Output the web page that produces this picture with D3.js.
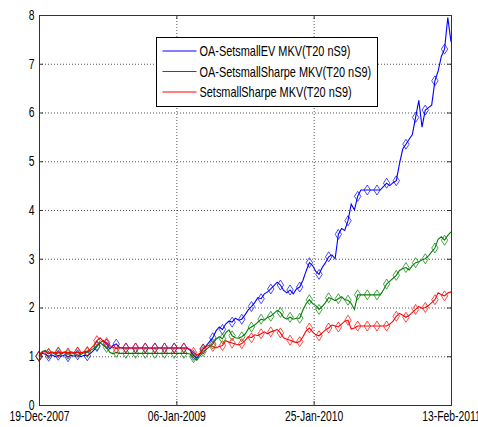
<!DOCTYPE html>
<html>
<head>
<meta charset="utf-8">
<script src="https://cdn.jsdelivr.net/npm/d3@7"></script>
<style>
  body { margin: 0; background: #fff; }
  svg { display: block; }
  text { font-family: "Liberation Sans", Arial, sans-serif; fill: #000; }
</style>
</head>
<body>
<svg id="chart"></svg>
<script>
const width = 478;
const height = 427;
const margin = {top: 15, right: 27, bottom: 22, left: 39};

// sampling: one value every 9 days starting on the first date
const startLabel = '19-Dec-2007';
const stepDays = 9;
const markerEvery = 3;

const tickLabels = ['19-Dec-2007', '06-Jan-2009', '25-Jan-2010', '13-Feb-2011'];
const yTicks = [0, 1, 2, 3, 4, 5, 6, 7, 8];

const seriesNames = [
    'OA-SetsmallEV MKV(T20 nS9)',
    'OA-SetsmallSharpe MKV(T20 nS9)',
    'SetsmallSharpe MKV(T20 nS9)'
];
const seriesColors = ['#0000ff', '#008000', '#ff0000'];

const evValues = [
    1.00, 1.06, 1.04, 1.00, 1.03, 0.99, 1.02, 1.00, 1.03, 0.99,
    1.02, 1.00, 1.03, 0.99, 1.02, 1.01, 1.06, 1.12, 1.20, 1.28,
    1.32, 1.25, 1.15, 1.22, 1.25, 1.18, 1.17, 1.17, 1.17, 1.17,
    1.17, 1.17, 1.17, 1.17, 1.17, 1.17, 1.17, 1.17, 1.17, 1.17,
    1.17, 1.17, 1.17, 1.17, 1.17, 1.17, 1.17, 1.12, 1.02, 0.96,
    1.05, 1.15, 1.22, 1.30, 1.38, 1.52, 1.60, 1.55, 1.66, 1.72,
    1.70, 1.78, 1.74, 1.76, 1.85, 1.95, 2.02, 2.10, 2.20, 2.18,
    2.28, 2.32, 2.38, 2.45, 2.52, 2.46, 2.35, 2.30, 2.36, 2.28,
    2.38, 2.42, 2.56, 2.75, 2.92, 2.86, 2.74, 2.68, 2.82, 2.92,
    3.04, 3.08, 3.00, 3.50, 3.62, 3.58, 3.78, 4.12, 4.00, 4.28,
    4.41, 4.41, 4.41, 4.41, 4.41, 4.41, 4.41, 4.48, 4.55, 4.50,
    4.56, 4.60, 4.95, 5.25, 5.35, 5.45, 5.55, 5.90, 6.25, 5.70,
    6.05, 6.10, 6.15, 6.65, 6.85, 7.15, 7.30, 7.95, 7.45
];

const oaSharpeValues = [
    1.00, 1.10, 1.12, 1.05, 1.08, 1.04, 1.07, 1.05, 1.08, 1.04,
    1.07, 1.05, 1.08, 1.04, 1.07, 1.08, 1.12, 1.16, 1.22, 1.28,
    1.22, 1.18, 1.08, 1.05, 1.08, 1.06, 1.06, 1.06, 1.06, 1.06,
    1.06, 1.06, 1.06, 1.06, 1.06, 1.06, 1.06, 1.06, 1.06, 1.06,
    1.06, 1.06, 1.06, 1.06, 1.06, 1.06, 1.06, 1.04, 0.97, 0.92,
    1.00, 1.10, 1.14, 1.20, 1.25, 1.35, 1.40, 1.36, 1.48, 1.54,
    1.42, 1.38, 1.37, 1.40, 1.45, 1.56, 1.60, 1.64, 1.70, 1.76,
    1.74, 1.80, 1.82, 1.88, 1.94, 1.90, 1.80, 1.76, 1.80, 1.76,
    1.78, 1.78, 1.95, 2.08, 2.16, 2.08, 2.04, 1.96, 2.02, 2.10,
    2.20, 2.18, 2.14, 2.18, 2.22, 2.16, 2.15, 2.08, 1.96, 2.26,
    2.26, 2.26, 2.26, 2.26, 2.26, 2.26, 2.26, 2.36, 2.48, 2.54,
    2.60, 2.66, 2.76, 2.80, 2.82, 2.77, 2.86, 2.92, 2.94, 2.98,
    3.00, 3.06, 3.14, 3.22, 3.40, 3.45, 3.38, 3.48, 3.55
];

const sharpeValues = [
    1.00, 1.08, 1.10, 1.06, 1.09, 1.07, 1.09, 1.07, 1.09, 1.07,
    1.09, 1.07, 1.09, 1.07, 1.09, 1.10, 1.15, 1.22, 1.32, 1.38,
    1.30, 1.28, 1.22, 1.18, 1.16, 1.17, 1.17, 1.17, 1.17, 1.17,
    1.17, 1.17, 1.17, 1.17, 1.17, 1.17, 1.17, 1.17, 1.17, 1.17,
    1.17, 1.17, 1.17, 1.17, 1.17, 1.17, 1.17, 1.14, 1.08, 1.02,
    1.06, 1.15, 1.20, 1.23, 1.20, 1.17, 1.20, 1.22, 1.32, 1.29,
    1.27, 1.25, 1.23, 1.26, 1.32, 1.40, 1.38, 1.44, 1.42, 1.46,
    1.50, 1.46, 1.50, 1.52, 1.55, 1.48, 1.38, 1.35, 1.33, 1.30,
    1.28, 1.30, 1.40, 1.52, 1.58, 1.50, 1.44, 1.42, 1.48, 1.54,
    1.58, 1.64, 1.62, 1.60, 1.66, 1.72, 1.74, 1.56, 1.58, 1.62,
    1.62, 1.62, 1.62, 1.62, 1.62, 1.62, 1.62, 1.62, 1.62, 1.66,
    1.72, 1.82, 1.88, 1.84, 1.80, 1.84, 1.90, 1.96, 2.02, 1.98,
    2.00, 2.04, 2.10, 2.16, 2.30, 2.26, 2.24, 2.30, 2.32
];

const parseDate = d3.utcParse('%d-%b-%Y');
const startDate = parseDate(startLabel);
const tickDates = tickLabels.map(parseDate);

const allSeries = [evValues, oaSharpeValues, sharpeValues].map((vals, k) => ({
    name: seriesNames[k],
    color: seriesColors[k],
    points: vals.map((v, i) => ({date: d3.utcDay.offset(startDate, i * stepDays), value: v, i: i}))
}));

const svg = d3.select('#chart').attr('width', width).attr('height', height);

const x = d3.scaleUtc()
    .domain([tickDates[0], tickDates[tickDates.length - 1]])
    .range([margin.left, width - margin.right]);
const y = d3.scaleLinear()
    .domain([0, 8])
    .range([height - margin.bottom, margin.top]);

const plotW = width - margin.right - margin.left;
const plotH = height - margin.bottom - margin.top;
const sx = 0.74; // squeezed text, like the original

// grid
const grid = svg.append('g')
    .attr('stroke', '#000')
    .attr('stroke-opacity', 0.65)
    .attr('stroke-dasharray', '1,2');
grid.selectAll('.gy').data(yTicks.slice(1, -1)).enter().append('line')
    .attr('x1', margin.left).attr('x2', width - margin.right)
    .attr('y1', d => y(d) + 0.5).attr('y2', d => y(d) + 0.5);
grid.selectAll('.gx').data(tickDates.slice(1, -1)).enter().append('line')
    .attr('x1', d => x(d) + 0.5).attr('x2', d => x(d) + 0.5)
    .attr('y1', margin.top).attr('y2', height - margin.bottom);

// series
const line = d3.line().x(d => x(d.date)).y(d => y(d.value));
const diamond = (cx, cy) => `M${cx},${cy - 5}L${cx + 3.2},${cy}L${cx},${cy + 5}L${cx - 3.2},${cy}Z`;

allSeries.forEach(s => {
    const g = svg.append('g');
    g.append('path').datum(s.points)
        .attr('fill', 'none')
        .attr('stroke', s.color)
        .attr('stroke-width', 1.1)
        .attr('d', line);
    g.selectAll('path.mk').data(s.points.filter(p => p.i % markerEvery === 0)).enter()
        .append('path').attr('class', 'mk')
        .attr('fill', 'none')
        .attr('stroke', s.color)
        .attr('stroke-opacity', 0.7)
        .attr('stroke-width', 1)
        .attr('d', d => diamond(x(d.date), y(d.value)));
});

// axes
const xAxis = svg.append('g').attr('transform', `translate(0, ${height - margin.bottom})`)
    .call(d3.axisBottom(x).tickValues(tickDates).tickFormat(d3.utcFormat('%d-%b-%Y'))
        .tickSize(-4).tickPadding(6));
const yAxis = svg.append('g').attr('transform', `translate(${margin.left}, 0)`)
    .call(d3.axisLeft(y).tickValues(yTicks).tickSize(-4).tickPadding(6));
const xTop = svg.append('g').attr('transform', `translate(0, ${margin.top})`)
    .call(d3.axisTop(x).tickValues(tickDates).tickFormat('').tickSize(-4));
const yRight = svg.append('g').attr('transform', `translate(${width - margin.right}, 0)`)
    .call(d3.axisRight(y).tickValues(yTicks).tickFormat('').tickSize(-4));

[xAxis, yAxis, xTop, yRight].forEach(a => {
    a.select('.domain').remove();
    a.selectAll('line').attr('stroke', '#333');
    a.selectAll('text')
        .style('font-family', '"Liberation Sans", Arial, sans-serif')
        .attr('font-size', 14)
        .attr('fill', '#111')
        .attr('transform', `scale(${sx},1)`);
});

svg.append('rect')
    .attr('x', margin.left + 0.5).attr('y', margin.top + 0.5)
    .attr('width', plotW).attr('height', plotH)
    .attr('fill', 'none')
    .attr('stroke', '#333')
    .attr('stroke-width', 1);

// legend
const legend = svg.append('g').attr('transform', 'translate(156.5, 37.5)');
legend.append('rect')
    .attr('width', 221).attr('height', 69)
    .attr('fill', '#fff')
    .attr('stroke', '#000')
    .attr('stroke-width', 1);
const entries = legend.selectAll('g.entry').data(allSeries).enter()
    .append('g').attr('class', 'entry')
    .attr('transform', (d, i) => `translate(0, ${13.5 + i * 20.5})`);
entries.append('line')
    .attr('x1', 6).attr('x2', 40)
    .attr('stroke', d => d.color)
    .attr('stroke-width', 1);
entries.append('text')
    .attr('transform', `translate(43, 0) scale(0.78,1)`)
    .attr('dy', '0.36em')
    .attr('font-size', 14)
    .attr('fill', '#111')
    .text(d => d.name);
</script>
</body>
</html>
